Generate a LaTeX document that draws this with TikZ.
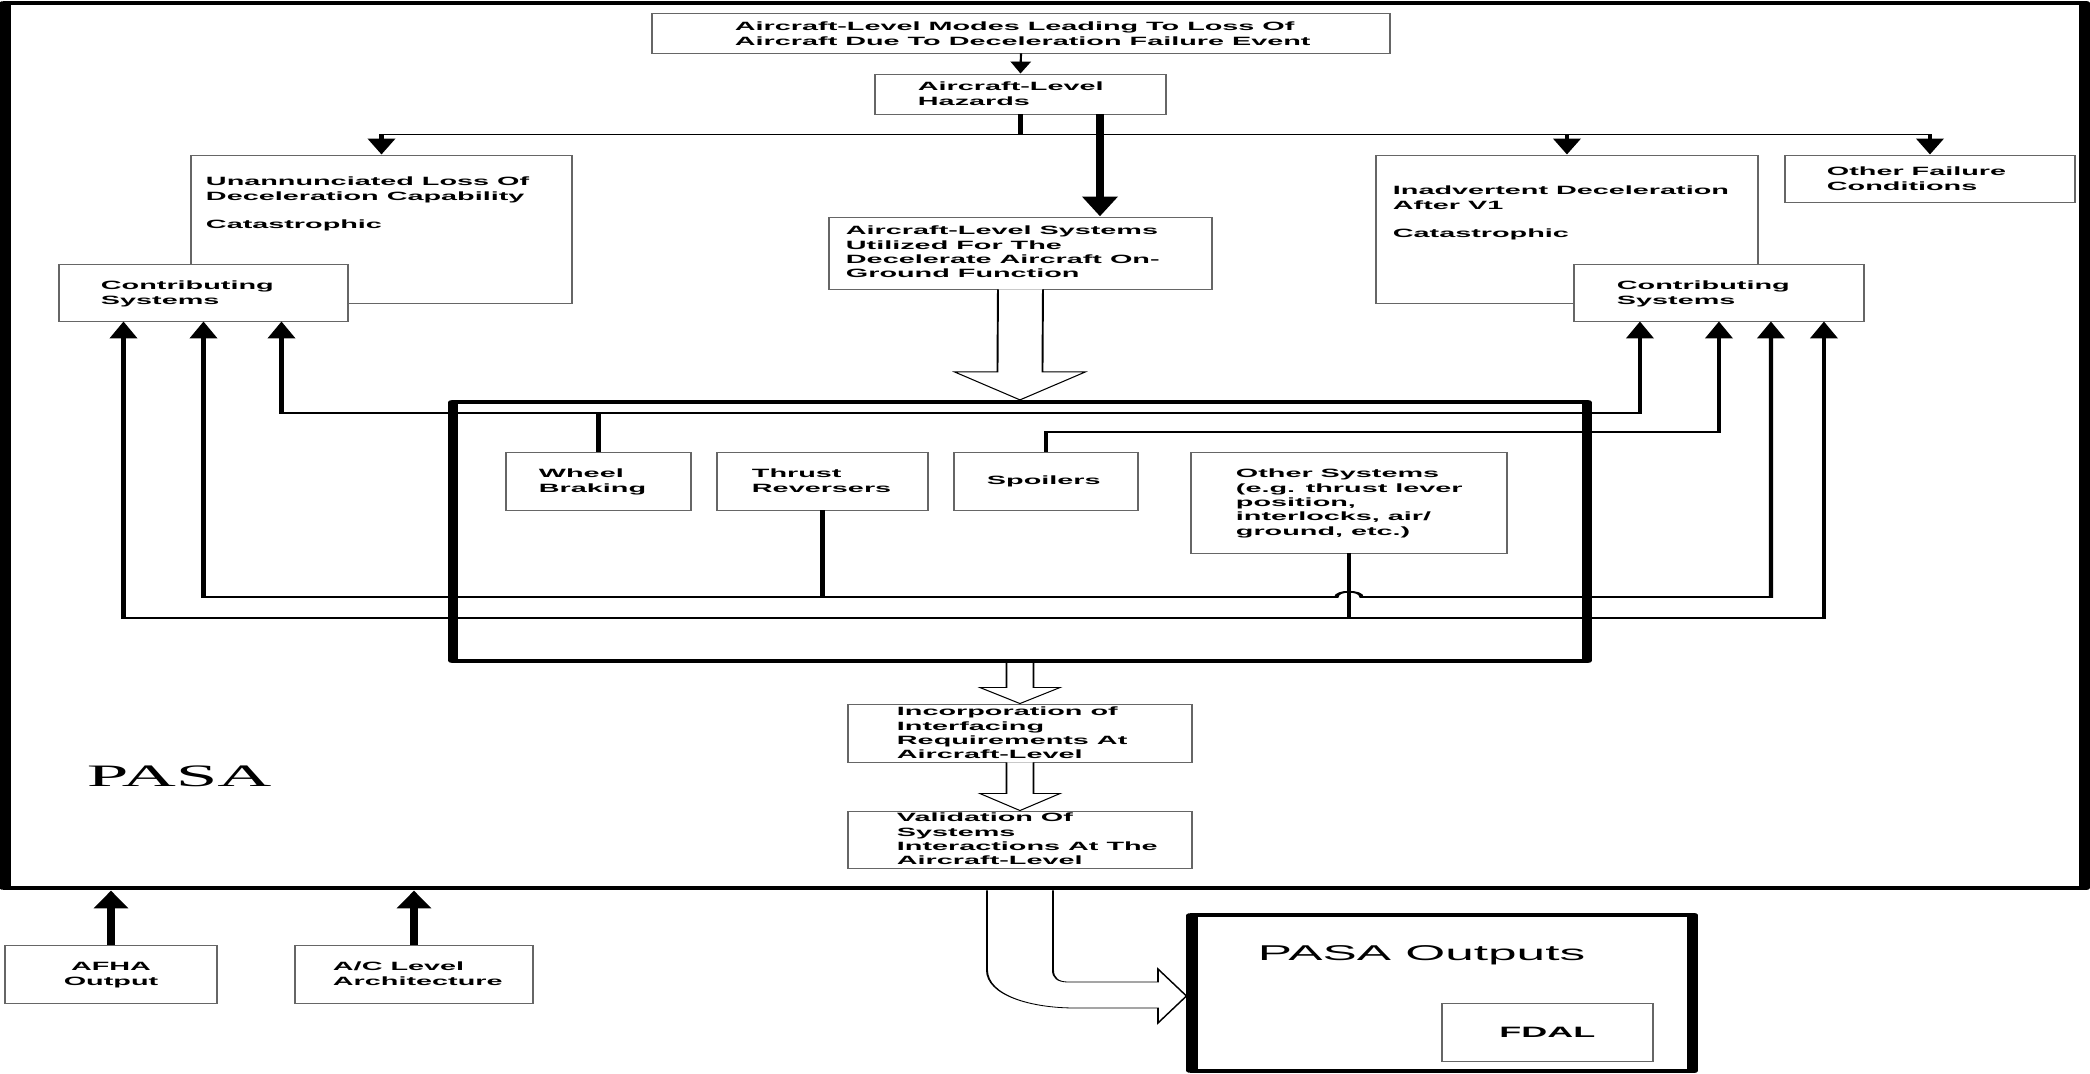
\documentclass[tikz,border=0pt]{standalone}
\usepackage{fontspec}
\setmainfont{Liberation Sans}
\newfontfamily\pasaserif{Liberation Serif}
\usetikzlibrary{arrows.meta,fit,calc}

% stacked lines whose baseline is that of the first line
\newcommand{\stackl}[1]{\begin{tabular}[t]{@{}l@{}}#1\end{tabular}}
\newcommand{\stackc}[1]{\begin{tabular}[t]{@{}c@{}}#1\end{tabular}}

\tikzset{
  box/.style={draw=black!60, line width=0.45pt, fill=white, inner sep=0pt},
  heavybox/.style={draw=black, line width=2.1pt, inner sep=0pt, line join=round},
  txt/.style={inner sep=0pt, anchor=base west,
              font=\fontsize{6}{7.15}\selectfont\bfseries},
  txtc/.style={txt, anchor=base},
  conn/.style={line width=0.9pt},
  upconn/.style={conn, -{Triangle[width=5.6pt,length=8.5pt]}},
  downconn/.style={conn, -{Triangle[width=5.6pt,length=8pt]}},
  smallarr/.style={line width=0.45pt, -{Triangle[width=4.2pt,length=6pt]}},
  bigarr/.style={line width=1.7pt, -{Triangle[width=7pt,length=10pt]}},
  feedarr/.style={line width=1.7pt, -{Triangle[width=6.7pt,length=9pt]}},
  hollow/.style={draw=black, line width=0.4pt, fill=white, line join=miter},
}

\begin{document}
\begin{tikzpicture}
\useasboundingbox (0,0) rectangle (1045pt,-537pt);
% one unit = one pixel of the wide layout; the canvas is widened 2.4 times
\begin{scope}[x=0.208333pt, y=-0.5pt, transform canvas={xscale=2.4}]

% ---- outer PASA frame ----
\node[heavybox, line width=2.3pt, fit={(5,3) (2085,888)}] (frame) {};

% ---- upper level boxes ----
\node[box, fit={(652,13) (1390,53)}] (top) {};
\node[box, fit={(875,74) (1166,114)}] (hz) {};
\node[box, fit={(191,155) (572,303)}] (una) {};
\node[box, fit={(59,264) (348,321)}] (cl) {};
\node[box, fit={(829,217) (1212,289)}] (sys) {};
\node[box, fit={(1376,155) (1758,303)}] (ina) {};
\node[box, fit={(1574,264) (1864,321)}] (cr) {};
\node[box, fit={(1785,155) (2075,202)}] (oth) {};

% ---- systems group ----
\node[heavybox, fit={(453,402) (1587,661)}] (ibox) {};
\node[box, fit={(506,452) (691,510)}] (wb) {};
\node[box, fit={(717,452) (928,510)}] (tr) {};
\node[box, fit={(954,452) (1138,510)}] (sp) {};
\node[box, fit={(1191,452) (1507,553)}] (os) {};

% ---- lower boxes ----
\node[box, fit={(848,704) (1192,762)}] (inc) {};
\node[box, fit={(848,811) (1192,868)}] (val) {};
\node[box, fit={(5,945) (217,1003)}] (afha) {};
\node[box, fit={(295,945) (533,1003)}] (acl) {};
\node[heavybox, line width=2.3pt, fit={(1192,915) (1693,1071)}] (out) {};
\node[box, fit={(1442,1003) (1653,1061)}] (fdal) {};

% ---- texts ----
\node[txt] (t-top) at (734,31) {\stackl{Aircraft-Level Modes Leading To Loss Of\\Aircraft Due To Deceleration Failure Event}};
\node[txt] (t-hz) at (917,91) {\stackl{Aircraft-Level\\Hazards}};
\node[txt] (t-una) at (205,186) {\stackl{Unannunciated Loss Of\\Deceleration Capability\\[7pt]Catastrophic}};
\node[txt] (t-cl) at (100,290) {\stackl{Contributing\\Systems}};
\node[txt] (t-sys) at (845,235) {\stackl{Aircraft-Level Systems\\Utilized For The\\Decelerate Aircraft On-\\Ground Function}};
\node[txt] (t-ina) at (1392,195) {\stackl{Inadvertent Deceleration\\After V1\\[7pt]Catastrophic}};
\node[txt] (t-cr) at (1616,290) {\stackl{Contributing\\Systems}};
\node[txt] (t-oth) at (1826,176) {\stackl{Other Failure\\Conditions}};
\node[txt] (t-wb) at (538,478) {\stackl{Wheel\\Braking}};
\node[txt] (t-tr) at (751,478) {\stackl{Thrust\\Reversers}};
\node[txt] (t-sp) at (986,485) {Spoilers};
\node[txt] (t-os) at (1235,478) {\stackl{Other Systems\\(e.g. thrust lever\\position,\\interlocks, air/\\ground, etc.)}};
\node[txt] (t-inc) at (896,716) {\stackl{Incorporation of\\Interfacing\\Requirements At\\Aircraft-Level}};
\node[txt] (t-val) at (896,822) {\stackl{Validation Of\\Systems\\Interactions At The\\Aircraft-Level}};
\node[txtc] (t-afha) at (111,971) {\stackc{AFHA\\Output}};
\node[txt] (t-acl) at (332,971) {\stackl{A/C Level\\Architecture}};
\node[inner sep=0pt, anchor=base west, font=\pasaserif\fontsize{15.6}{17}\selectfont] (t-pasa) at (86,787) {PASA};
\node[inner sep=0pt, anchor=base west, font=\fontsize{10.7}{12}\selectfont] (t-out) at (1257,960) {PASA Outputs};
\node[txtc, font=\fontsize{7.5}{9}\selectfont\bfseries] (t-fdal) at (1547.5,1037) {FDAL};

% ---- hazard distribution ----
\draw[smallarr] (top.south) -- (hz.north);
\coordinate (bus) at ($(hz.south)+(0,20)$);
\draw[conn] (hz.south) -- (bus);
\draw[downconn] (bus) -| (una.north);
\draw[downconn] (bus) -| (ina.north);
\draw[downconn] (bus) -| (oth.north);
\coordinate (xthick) at (1100,0);
\draw[bigarr] (hz.south -| xthick) -- (sys.north -| xthick);

% ---- block arrows ----
\draw[hollow] ($(sys.south)+(-22.5,0)$) -- ($(ibox.north)+(-22.5,-28)$) -- ($(ibox.north)+(-65.5,-28)$)
  -- (ibox.north) -- ($(ibox.north)+(65.5,-28)$) -- ($(ibox.north)+(22.5,-28)$) -- ($(sys.south)+(22.5,0)$);
\draw[hollow] ($(ibox.south)+(-13.5,0)$) -- ($(inc.north)+(-13.5,-16)$) -- ($(inc.north)+(-40,-16)$)
  -- (inc.north) -- ($(inc.north)+(40,-16)$) -- ($(inc.north)+(13.5,-16)$) -- ($(ibox.south)+(13.5,0)$);
\draw[hollow] ($(inc.south)+(-13.5,0)$) -- ($(val.north)+(-13.5,-17)$) -- ($(val.north)+(-40,-17)$)
  -- (val.north) -- ($(val.north)+(40,-17)$) -- ($(val.north)+(13.5,-17)$) -- ($(inc.south)+(13.5,0)$);
\draw[hollow] ($(frame.south)+(-58,0)$) -- (987,970) .. controls (987,995) and (1030,1008) .. (1075,1008)
  -- (1158,1008) -- (1158,1023) -- ($(out.west)+(0,3)$) -- (1158,969) -- (1158,982) -- (1068,982)
  .. controls (1058,982) and (1053,978) .. (1053,970) -- ($(frame.south)+(8,0)$);

% ---- systems to contributing systems ----
\coordinate (yA) at (0,413);
\coordinate (yB) at (0,432);
\coordinate (yC) at (0,597);
\coordinate (yD) at (0,618);
\coordinate (hop) at (os.south |- yC);
\draw[conn] (wb.north) -- (wb.north |- yA);
\draw[upconn] (wb.north |- yA) -| ($(cl.south)+(78,0)$);
\draw[upconn] (wb.north |- yA) -| ($(cr.south)+(-79,0)$);
\draw[upconn] (sp.north) -- (sp.north |- yB) -| (cr.south);
\draw[upconn] (tr.south) -- (tr.south |- yC) -| (cl.south);
\draw[upconn] (tr.south |- yC) -- ($(hop)+(-12.5,0)$) .. controls +(0,-7) and +(0,-7) .. ($(hop)+(12.5,0)$)
  -| ($(cr.south)+(52,0)$);
\draw[conn] (os.south) -- (os.south |- yD);
\draw[upconn] (os.south |- yD) -| ($(cl.south)+(-80,0)$);
\draw[upconn] (os.south |- yD) -| ($(cr.south)+(105,0)$);

% ---- inputs ----
\draw[feedarr] (afha.north) -- (afha.north |- frame.south);
\draw[feedarr] (acl.north) -- (acl.north |- frame.south);

\end{scope}
\end{tikzpicture}
\end{document}
